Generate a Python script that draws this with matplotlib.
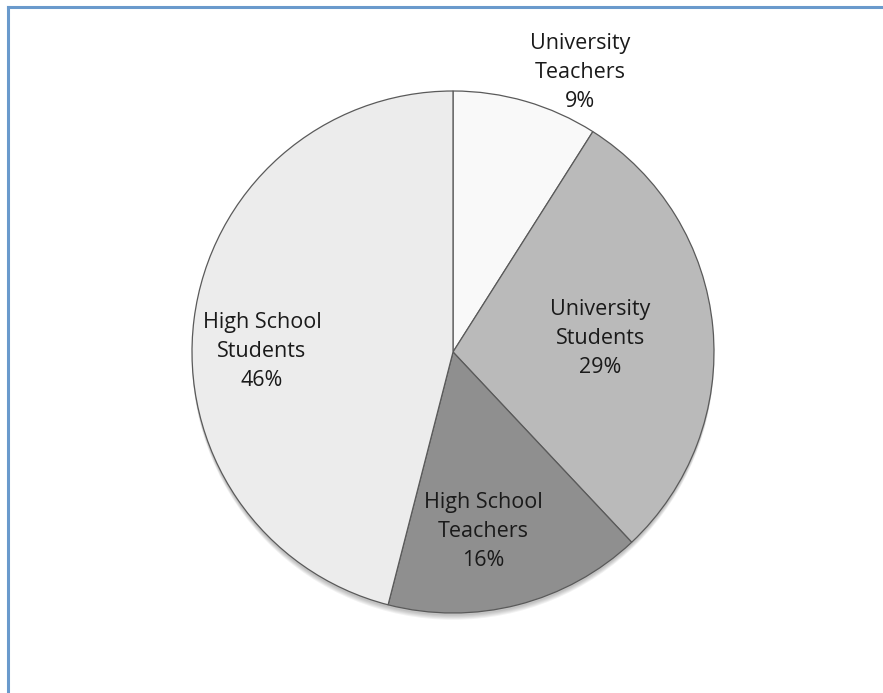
import numpy as np
import matplotlib.pyplot as plt
from matplotlib.lines import Line2D
from matplotlib.patches import Circle

labels = ["University\nTeachers", "University\nStudents", "High School\nTeachers", "High School\nStudents"]
shares = [9, 29, 16, 46]
colors = ["#f9f9f9", "#bababa", "#8f8f8f", "#ececec"]

plt.rcParams['font.family'] = ['Open Sans', 'DejaVu Sans']

fig = plt.figure(figsize=(8.83, 6.93), dpi=100)
W, H = 883, 693
cx, cy, r = 453, 352, 261
ax = fig.add_axes([(cx - r) / W, (H - cy - r) / H, 2 * r / W, 2 * r / H])

# soft shadow under the pie
for k in range(5):
    ax.add_patch(Circle((0.0, -0.01 - 0.004 * k), 1.0, color="black",
                        alpha=0.05, lw=0, zorder=0, clip_on=False))

wedges, _ = ax.pie(shares, colors=colors, startangle=90, counterclock=False,
                   radius=1.0, wedgeprops=dict(edgecolor="#5a5a5a", linewidth=0.9, zorder=1))
ax.set_xlim(-1, 1)
ax.set_ylim(-1, 1)
ax.set_aspect('equal')
ax.axis('off')

# label positions (radial distance, angle offset in degrees) per slice
label_dist = [1.178, 0.566, 0.699, 0.732]
angle_shift = [-8.2, 0.0, -4.9, 7.2]
for w, lab, s, d, da in zip(wedges, labels, shares, label_dist, angle_shift):
    mid = np.deg2rad((w.theta1 + w.theta2) / 2 + da)
    ax.text(d * np.cos(mid), d * np.sin(mid), f"{lab}\n{s}%", ha='center', va='center',
            fontsize=15.5, color="#1a1a1a", linespacing=1.5, clip_on=False, zorder=3)

# blue chart frame (top and left edges visible)
fig.add_artist(Line2D([8 / W, 1.0], [1 - 7 / H, 1 - 7 / H], color="#6a9acc", lw=2.2))
fig.add_artist(Line2D([8 / W, 8 / W], [0, 1 - 7 / H], color="#6a9acc", lw=2.2))

fig.savefig("out.png", dpi=100)
